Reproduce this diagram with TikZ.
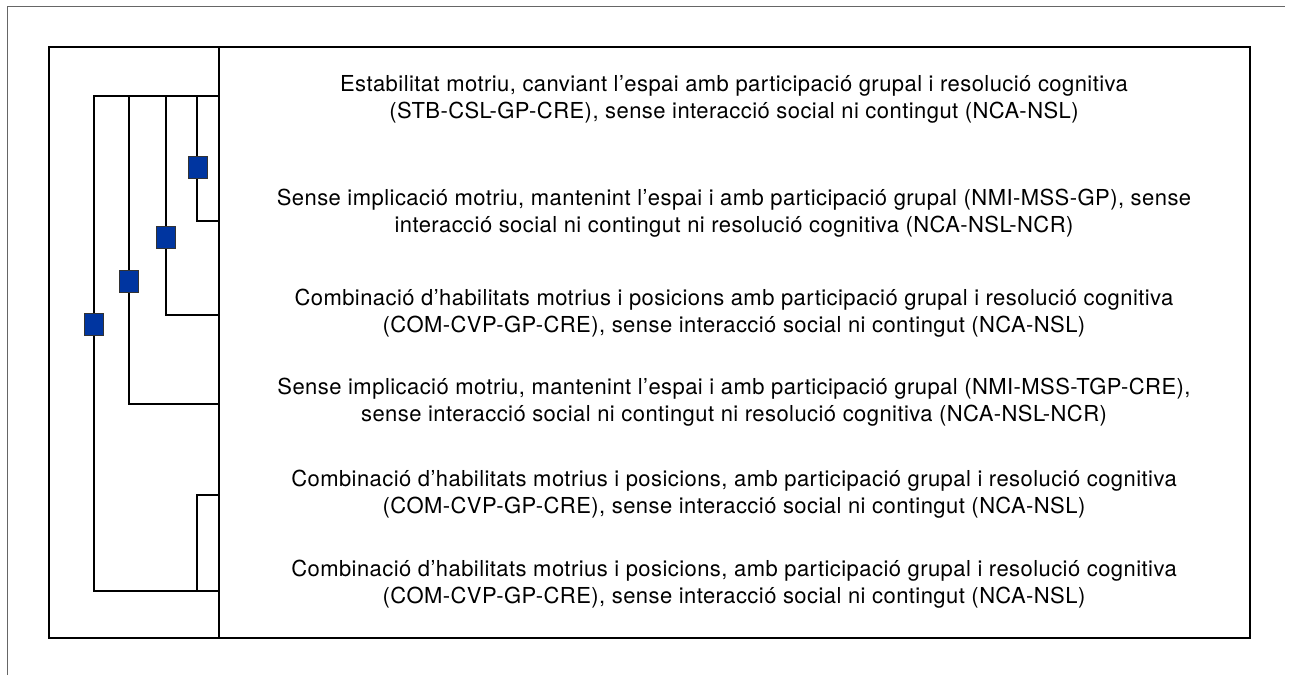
\documentclass[tikz,border=0pt]{standalone}
\usepackage{fontspec}
\setmainfont[LetterSpace=2]{TeX Gyre Heros}
\usepackage{tikz}
\definecolor{clusterblue}{RGB}{0,53,160}

\begin{document}
\begin{tikzpicture}[x=1pt,y=-1pt,line width=2.4pt,
	font=\fontsize{22}{27}\selectfont]
	\tikzstyle{every row}=[align=center,inner sep=0pt]
	\tikzstyle{marker}=[fill=clusterblue,draw=black!80,line width=0.8pt,
		minimum width=19pt,minimum height=22pt,inner sep=0pt]
	\tikzstyle{frame}=[draw=black!60,line width=1pt]

	\useasboundingbox (0,0) rectangle (1290,675);
	\draw[frame] (7,675) -- (7,6) -- (1285,6);

	% table outline and divider
	\draw (49,47) rectangle (1250,638);
	\draw (219,47) -- (219,638);

	% row labels
	\node[every row] (r1) at (734,99) {Estabilitat motriu, canviant l’espai amb participació grupal i resolució cognitiva\\(STB-CSL-GP-CRE), sense interacció social ni contingut (NCA-NSL)};
	\node[every row] (r2) at (734,213) {Sense implicació motriu, mantenint l’espai i amb participació grupal (NMI-MSS-GP), sense\\interacció social ni contingut ni resolució cognitiva (NCA-NSL-NCR)};
	\node[every row] (r3) at (734,313) {Combinació d’habilitats motrius i posicions amb participació grupal i resolució cognitiva\\(COM-CVP-GP-CRE), sense interacció social ni contingut (NCA-NSL)};
	\node[every row] (r4) at (734,402) {Sense implicació motriu, mantenint l’espai i amb participació grupal (NMI-MSS-TGP-CRE),\\sense interacció social ni contingut ni resolució cognitiva (NCA-NSL-NCR)};
	\node[every row] (r5) at (734,494) {Combinació d’habilitats motrius i posicions, amb participació grupal i resolució cognitiva\\(COM-CVP-GP-CRE), sense interacció social ni contingut (NCA-NSL)};
	\node[every row] (r6) at (734,584) {Combinació d’habilitats motrius i posicions, amb participació grupal i resolució cognitiva\\(COM-CVP-GP-CRE), sense interacció social ni contingut (NCA-NSL)};

	% leaves on the divider
	\coordinate (l1) at (219,96);
	\coordinate (l2) at (219,221);
	\coordinate (l3) at (219,315);
	\coordinate (l4) at (219,404);
	\coordinate (l5) at (219,495);
	\coordinate (l6) at (219,591);

	% dendrogram branches
	\draw (l1) -- (94,96) |- (l6);
	\draw (129,96) |- (l4);
	\draw (166,96) |- (l3);
	\draw (197,96) |- (l2);
	\draw (l5) -| (197,591);

	% cluster markers
	\node[marker] (m1) at (198,167) {};
	\node[marker] (m2) at (166,237) {};
	\node[marker] (m3) at (129,281) {};
	\node[marker] (m4) at (94,324) {};
\end{tikzpicture}
\end{document}
